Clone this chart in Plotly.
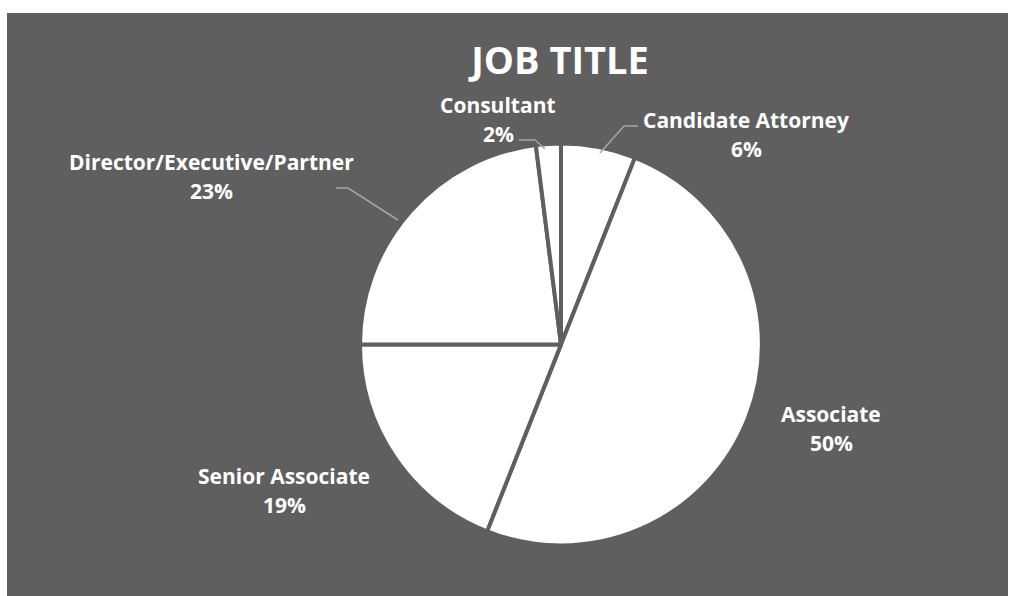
import plotly.graph_objects as go

# Job title breakdown (share of respondents, %)
titles = ["Candidate Attorney", "Associate", "Senior Associate",
          "Director/Executive/Partner", "Consultant"]
shares = [6, 50, 19, 23, 2]

# Page geometry in pixels
W, H = 1009, 596
M_L, M_T, M_R, M_B = 7, 13, 1, 0
PLOT_W, PLOT_H = W - M_L - M_R, H - M_T - M_B

BG = "#5f5f5f"
LEADER = "#a6a6a6"
FONT = "Open Sans"


def fx(x):
    """Pixel x -> paper fraction."""
    return (x - M_L) / PLOT_W


def fy(y):
    """Pixel y (from top) -> paper fraction."""
    return 1 - (y - M_T) / PLOT_H


# Pie placement (pixels)
CX, CY, R = 561, 344.5, 201

# Label anchors: centre x, y of name line, y of percent line
label_pos = {
    "Candidate Attorney": (746, 120, 149),
    "Associate": (831, 414, 443),
    "Senior Associate": (284, 476, 505),
    "Director/Executive/Partner": (211, 162, 191),
    "Consultant": (498, 105, 134),
}

# Leader lines for labels placed away from their slices
leaders = {
    "Candidate Attorney": [(638, 126), (624, 126), (600, 153)],
    "Director/Executive/Partner": [(336, 188), (348, 188), (398, 220)],
    "Consultant": [(519, 140), (535, 140), (545, 149)],
}

fig = go.Figure(
    go.Pie(
        labels=titles,
        values=shares,
        sort=False,
        direction="clockwise",
        rotation=0,
        textinfo="none",
        hoverinfo="label+percent",
        showlegend=False,
        marker=dict(colors=["#ffffff"] * len(titles),
                    line=dict(color=BG, width=4)),
        domain=dict(x=[fx(CX - R), fx(CX + R)], y=[fy(CY + R), fy(CY - R)]),
    )
)

label_font = dict(family=FONT, size=21, color="#ffffff", weight="bold")
annotations = []
for name, val in zip(titles, shares):
    x, y1, y2 = label_pos[name]
    for text, y in ((name, y1), (f"{val}%", y2)):
        annotations.append(dict(
            text=text, x=fx(x), y=fy(y), xref="paper", yref="paper",
            xanchor="center", yanchor="middle", showarrow=False,
            font=label_font,
        ))

shapes = [dict(type="rect", xref="paper", yref="paper", x0=0, x1=1, y0=0, y1=1,
               fillcolor=BG, line=dict(width=0), layer="below")]
for name, pts in leaders.items():
    path = "M " + " L ".join(f"{fx(x)},{fy(y)}" for x, y in pts)
    shapes.append(dict(type="path", xref="paper", yref="paper", path=path,
                       line=dict(color=LEADER, width=1.5)))

fig.update_layout(
    width=W, height=H,
    margin=dict(l=M_L, r=M_R, t=M_T, b=M_B),
    paper_bgcolor="#ffffff",
    title=dict(text="JOB TITLE", x=fx(560), xref="paper", xanchor="center",
               y=1 - 61 / H, yref="container", yanchor="middle",
               font=dict(family=FONT, size=38, color="#ffffff", weight="bold")),
    annotations=annotations,
    shapes=shapes,
)

fig.write_html("out.html")
